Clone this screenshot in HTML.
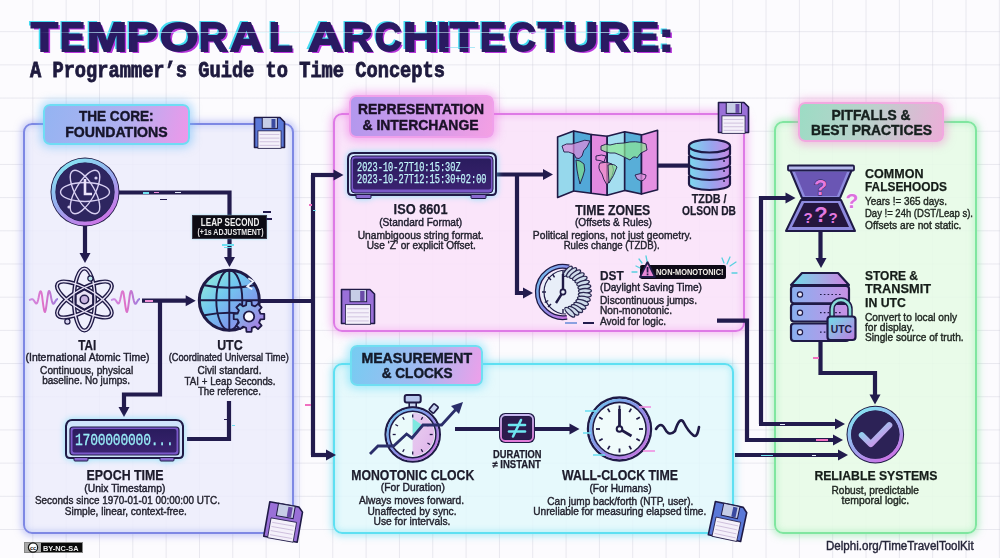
<!DOCTYPE html>
<html><head><meta charset="utf-8">
<style>
*{margin:0;padding:0;box-sizing:border-box}
html,body{width:1000px;height:558px;overflow:hidden;background:#fcfbfe}
body{position:relative;font-family:"Liberation Sans",sans-serif;color:#1b1a2e}
#grid{position:absolute;left:0;top:0;width:1000px;height:558px;
 background-image:linear-gradient(to right,rgba(200,200,214,.38) 1.2px,transparent 1.2px),linear-gradient(to bottom,rgba(200,200,214,.38) 1.2px,transparent 1.2px);
 background-size:33.33px 33.2px;background-position:-1px -2px}
.panel{position:absolute;border-radius:9px;border:3px solid}
.hdr{position:absolute;border-radius:7px;border:2.5px solid}
.t{position:absolute;white-space:nowrap}
svg{position:absolute;overflow:visible}
</style></head><body>
<div id="grid"></div>
<div class="panel" style="left:23px;top:123px;width:271px;height:411px;border-width:2.5px;border-color:#7e88e4;background:rgba(236,236,251,.85);box-shadow:0 0 7px 2px rgba(140,150,240,.5),inset 0 0 6px 1px rgba(150,170,245,.45)"></div>
<div class="panel" style="left:333px;top:113px;width:412px;height:219px;border-width:2.5px;border-color:#de7ae6;background:rgba(250,226,250,.9);box-shadow:0 0 8px 2px rgba(235,120,230,.5),inset 0 0 6px 1px rgba(240,140,235,.4)"></div>
<div class="panel" style="left:333px;top:363px;width:401px;height:171px;border-width:2.5px;border-color:#5ee0f2;background:rgba(226,248,252,.85);box-shadow:0 0 7px 2px rgba(90,220,240,.5),inset 0 0 6px 1px rgba(100,225,245,.4)"></div>
<div class="panel" style="left:774px;top:121px;width:203px;height:413px;border-width:2.5px;border-color:#80e6a0;background:rgba(230,250,230,.88);box-shadow:0 0 7px 2px rgba(120,230,150,.5),inset 0 0 6px 1px rgba(130,235,160,.4)"></div>
<div class="hdr" style="left:43px;top:104px;width:147px;height:41px;border-color:#6fdcf4;background:linear-gradient(105deg,#94b4f2,#b0b0f0 55%,#ee98ea);box-shadow:0 0 9px 3px rgba(110,190,250,.5)"></div>
<div class="hdr" style="left:349px;top:95px;width:145px;height:43px;border-color:#f0a0ea;background:linear-gradient(105deg,#b098ee,#d098ea 50%,#f4a0e4);box-shadow:0 0 9px 3px rgba(240,120,230,.5)"></div>
<div class="hdr" style="left:350px;top:345px;width:133px;height:41px;border-color:#70def2;background:linear-gradient(105deg,#76ccf2,#a4b8f0 55%,#eea0ea);box-shadow:0 0 9px 3px rgba(100,220,250,.5)"></div>
<div class="hdr" style="left:798px;top:102px;width:146px;height:40px;border-color:#f2a8e0;background:linear-gradient(105deg,#9cdcc4,#bcd0cc 50%,#ecaed8);box-shadow:0 0 9px 3px rgba(240,140,210,.5)"></div>
<svg style="left:0;top:0" width="1000" height="558" viewBox="0 0 1000 558"><g fill="none" stroke="#221b4d" stroke-width="4.2" stroke-linejoin="miter" stroke-linecap="butt"><path d="M119,192.5 H229.5 V259"/><path d="M85,226 V255"/><path d="M142,300.7 H187"/><path d="M160,300.7 V394.5 H124 V409"/><path d="M259,301 H313"/><path d="M313,175 V455"/><path d="M311,175 H335"/><path d="M311,455 H328"/><path d="M229,401 V439 H187"/><path d="M496,174.5 H545"/><path d="M517,174.5 V293 H525"/><path d="M658,165.6 H689"/><path d="M761,424 V198 H787"/><path d="M759,424 H837"/><path d="M717,320.7 H747 V440 H835"/><path d="M735,455 H840"/><path d="M820.5,232 V260"/><path d="M820.5,341 V373 H875 V396"/><path d="M455,429 H571"/></g><g fill="#221b4d"><polygon points="229.5,267 224.0,257 235.0,257"/><polygon points="85,263 79.5,253 90.5,253"/><polygon points="195.7,300.7 185.7,295.2 185.7,306.2"/><polygon points="124,417 118.5,407 129.5,407"/><polygon points="343.5,175 333.5,169.5 333.5,180.5"/><polygon points="336,455 326,449.5 326,460.5"/><polygon points="553,174.5 543,169.0 543,180.0"/><polygon points="533,293 523,287.5 523,298.5"/><polygon points="795.5,198 785.5,192.5 785.5,203.5"/><polygon points="845,424 835,418.5 835,429.5"/><polygon points="843,440 833,434.5 833,445.5"/><polygon points="848,455 838,449.5 838,460.5"/><polygon points="821,268 815.5,258 826.5,258"/><polygon points="875,404.4 869.5,394.4 880.5,394.4"/><polygon points="579.5,429 569.5,423.5 569.5,434.5"/></g></svg>
<svg style="left:0;top:0" width="0" height="0"><defs>
<linearGradient id="gRing" x1="0.2" y1="0" x2="0.8" y2="1"><stop offset="0" stop-color="#86e6f2"/><stop offset=".5" stop-color="#9aa8ee"/><stop offset="1" stop-color="#d070e6"/></linearGradient>
<linearGradient id="gCheck" x1="0" y1="0" x2="1" y2="1"><stop offset="0" stop-color="#7fe4f0"/><stop offset="1" stop-color="#e080e8"/></linearGradient>
<linearGradient id="gGlobe" x1="0" y1="0" x2="1" y2="1"><stop offset="0" stop-color="#9af4d4"/><stop offset=".4" stop-color="#72c8f0"/><stop offset=".7" stop-color="#7e9cec"/><stop offset="1" stop-color="#b88ae8"/></linearGradient>
<linearGradient id="gGear" x1="0" y1="0" x2="1" y2="1"><stop offset="0" stop-color="#70d0ee"/><stop offset="1" stop-color="#b070e0"/></linearGradient>
<linearGradient id="gWave" x1="0" y1="0" x2="1" y2="0"><stop offset="0" stop-color="#c890e8"/><stop offset=".5" stop-color="#e070c8"/><stop offset="1" stop-color="#9a80e0"/></linearGradient>
<linearGradient id="gDisc" x1="0" y1="0" x2="1" y2="0"><stop offset="0" stop-color="#7cd8ee"/><stop offset=".55" stop-color="#98a4ee"/><stop offset="1" stop-color="#c688e4"/></linearGradient>
<linearGradient id="gSrv" x1="0" y1="0" x2="1" y2="0"><stop offset="0" stop-color="#88b0f0"/><stop offset="1" stop-color="#c890e4"/></linearGradient>
<linearGradient id="gSrvTop" x1="0" y1="0" x2="1" y2="0"><stop offset="0" stop-color="#70dde8"/><stop offset="1" stop-color="#d080e0"/></linearGradient>
<linearGradient id="gLock" x1="0" y1="0" x2="1" y2="1"><stop offset="0" stop-color="#6ee0e8"/><stop offset="1" stop-color="#c07ae0"/></linearGradient>
<linearGradient id="gClockRing" x1="0" y1="0" x2="1" y2="1"><stop offset="0" stop-color="#6fc8f0"/><stop offset=".5" stop-color="#8a8ee8"/><stop offset="1" stop-color="#d070e0"/></linearGradient>
<linearGradient id="gFaceSW" x1="0" y1="0" x2="1" y2="1"><stop offset="0" stop-color="#e8fbfb"/><stop offset=".5" stop-color="#ead8f4"/><stop offset="1" stop-color="#d8a8ec"/></linearGradient>
<linearGradient id="gDisp" x1="0" y1="0" x2="0" y2="1"><stop offset="0" stop-color="#2a1c5e"/><stop offset="1" stop-color="#3a2270"/></linearGradient>
<linearGradient id="gNe" x1="0" y1="0" x2="0" y2="1"><stop offset="0" stop-color="#c8b8f0"/><stop offset="1" stop-color="#e07ad8"/></linearGradient>
</defs></svg>
<svg style="left:49px;top:156px" width="72" height="72" viewBox="0 0 72 72"><circle cx="36" cy="36" r="34.5" fill="#1f1a46"/>
<circle cx="36" cy="36" r="31.6" fill="none" stroke="url(#gRing)" stroke-width="4"/>
<circle cx="36" cy="36" r="29.2" fill="#2e2660"/>
<g fill="none" stroke="#d8d0f2" stroke-width="1.4">
<ellipse cx="36" cy="36" rx="24.5" ry="9.5"/>
<ellipse cx="36" cy="36" rx="24.5" ry="9.5" transform="rotate(60 36 36)"/>
<ellipse cx="36" cy="36" rx="24.5" ry="9.5" transform="rotate(-60 36 36)"/>
</g>
<path d="M36 23 V38 H43" stroke="#ece4fa" stroke-width="2.6" fill="none"/>
<circle cx="20" cy="51" r="1.6" fill="#d8d0f2"/><circle cx="47" cy="22" r="1.6" fill="#d8d0f2"/></svg>
<svg style="left:27px;top:264px" width="116" height="72" viewBox="0 0 116 72">
<polyline points="2.0,36.0 2.5,35.9 3.0,35.8 3.5,35.6 3.9,35.4 4.4,35.3 4.9,35.2 5.4,35.2 5.9,35.4 6.3,35.8 6.8,36.4 7.3,37.1 7.8,37.9 8.3,38.7 8.8,39.3 9.2,39.6 9.7,39.4 10.2,38.7 10.7,37.3 11.2,35.5 11.7,33.3 12.1,31.1 12.6,29.1 13.1,27.7 13.6,27.2 14.1,27.7 14.6,29.4 15.1,32.1 15.5,35.5 16.0,39.3 16.5,42.8 17.0,45.7 17.5,47.5 18.0,48.0 18.4,47.0 18.9,44.8 19.4,41.6 19.9,37.9 20.4,34.2 20.9,30.9 21.3,28.5 21.8,27.2 22.3,27.0 22.8,27.9 23.3,29.6 23.8,31.8 24.2,34.1 24.7,36.3 25.2,38.0 25.7,39.2 26.2,39.7 26.6,39.7 27.1,39.3 27.6,38.6 28.1,37.7 28.6,36.9 29.1,36.2 29.5,35.6 30.0,35.3 30.5,35.1 31.0,35.1" fill="none" stroke="url(#gWave)" stroke-width="2" stroke-linejoin="round"/>
<polyline points="84.0,36.0 84.5,35.9 85.0,35.8 85.5,35.6 85.9,35.4 86.4,35.3 86.9,35.2 87.4,35.2 87.9,35.4 88.3,35.8 88.8,36.4 89.3,37.1 89.8,37.9 90.3,38.7 90.8,39.3 91.2,39.6 91.7,39.4 92.2,38.7 92.7,37.3 93.2,35.5 93.7,33.3 94.2,31.1 94.6,29.1 95.1,27.7 95.6,27.2 96.1,27.7 96.6,29.4 97.0,32.1 97.5,35.5 98.0,39.3 98.5,42.8 99.0,45.7 99.5,47.5 100.0,48.0 100.4,47.0 100.9,44.8 101.4,41.6 101.9,37.9 102.4,34.2 102.8,30.9 103.3,28.5 103.8,27.2 104.3,27.0 104.8,27.9 105.3,29.6 105.8,31.8 106.2,34.1 106.7,36.3 107.2,38.0 107.7,39.2 108.2,39.7 108.7,39.7 109.1,39.3 109.6,38.6 110.1,37.7 110.6,36.9 111.1,36.2 111.5,35.6 112.0,35.3 112.5,35.1 113.0,35.1" fill="none" stroke="url(#gWave)" stroke-width="2" stroke-linejoin="round"/>
<g transform="translate(57.4,35.5)">
<g fill="none" stroke="#1f1a46" stroke-width="4.2">
<ellipse rx="10.5" ry="31"/><ellipse rx="10.5" ry="31" transform="rotate(60)"/><ellipse rx="10.5" ry="31" transform="rotate(-60)"/>
</g>
<g fill="none" stroke="#e6e0f4" stroke-width="1.4">
<ellipse rx="10.5" ry="31"/><ellipse rx="10.5" ry="31" transform="rotate(60)"/><ellipse rx="10.5" ry="31" transform="rotate(-60)"/>
</g>
<polygon points="0,-10 8.7,-5 8.7,5 0,10 -8.7,5 -8.7,-5" fill="#e8e2f4" stroke="#1f1a46" stroke-width="2"/>
<circle r="4.2" fill="#c8b4e0" stroke="#1f1a46" stroke-width="1.5"/>
<circle cx="6" cy="-21" r="2.6" fill="#bfe8ee" stroke="#1f1a46" stroke-width="1.2"/>
<circle cx="-17" cy="22" r="2.6" fill="#d8d4f0" stroke="#1f1a46" stroke-width="1.2"/>
</g></svg>
<svg style="left:196px;top:267px" width="72" height="70" viewBox="0 0 72 70"><g transform="translate(33.3,33.3)">
<circle r="30" fill="url(#gGlobe)" stroke="#1f1a46" stroke-width="3"/>
<g fill="none" stroke="#1f1a46" stroke-width="1.9">
<line x1="-30" y1="0" x2="30" y2="0"/><line x1="0" y1="-30" x2="0" y2="30"/>
<ellipse rx="13" ry="30"/>
<path d="M-25,-15 Q0,-10 25,-15"/><path d="M-25,15 Q0,10 25,15"/>
</g>
<path d="M19,-22 L24,-19 L18,-14 L23,-11" fill="none" stroke="#f0f4ff" stroke-width="1.8"/>
</g>
<g transform="translate(53,49.5)" fill="url(#gGear)" stroke="#1f1a46" stroke-width="1.8" stroke-linejoin="round">
<path d="M11.45,-2.86 L15.29,-2.54 L15.29,2.54 L11.45,2.86 L10.12,6.07 L12.61,9.01 L9.01,12.61 L6.07,10.12 L2.86,11.45 L2.54,15.29 L-2.54,15.29 L-2.86,11.45 L-6.07,10.12 L-9.01,12.61 L-12.61,9.01 L-10.12,6.07 L-11.45,2.86 L-15.29,2.54 L-15.29,-2.54 L-11.45,-2.86 L-10.12,-6.07 L-12.61,-9.01 L-9.01,-12.61 L-6.07,-10.12 L-2.86,-11.45 L-2.54,-15.29 L2.54,-15.29 L2.86,-11.45 L6.07,-10.12 L9.01,-12.61 L12.61,-9.01 L10.12,-6.07 Z"/>
</g>
<g transform="translate(53,49.5)"><circle r="5.2" fill="#fafaff" stroke="#1f1a46" stroke-width="1.8"/></g></svg>
<svg style="left:64px;top:418px" width="124" height="45" viewBox="0 0 124 45" filter="drop-shadow(0 0 3px rgba(90,220,250,.7))">
<path d="M8,2 H112 Q118,2 119,8 V36 Q119,40 115,40 H6 Q2,40 2,36 V8 Q3,2 8,2 Z" fill="#cfe4fb" stroke="#1f1a46" stroke-width="2"/>
<rect x="6" y="9" width="109" height="28" rx="3" fill="#7a58c8" stroke="#1f1a46" stroke-width="1.2"/>
<rect x="8.5" y="11" width="104" height="23.5" rx="2" fill="url(#gDisp)"/>
<rect x="10" y="39.5" width="14" height="3.5" rx="1" fill="#8a6ad0" stroke="#1f1a46" stroke-width="1"/>
<rect x="96" y="39.5" width="14" height="3.5" rx="1" fill="#8a6ad0" stroke="#1f1a46" stroke-width="1"/>
</svg>
<div class="t" style="left:75px;top:430.5px;font-family:'Liberation Mono',monospace;font-size:17px;line-height:19px;color:#98ecf8;-webkit-text-stroke:.3px #98ecf8;transform:scaleX(0.765);transform-origin:0 0;letter-spacing:-0.3px">1700000000...</div>
<div style="position:absolute;left:192px;top:214.5px;width:75px;height:24.5px;background:#0c0c14;border:1px solid #3a3a48;box-shadow:0 0 2px rgba(60,220,240,.5)"></div>
<svg style="left:252.5px;top:115.5px" width="33" height="33" viewBox="0 0 33 33"><g transform="rotate(0 16.5 16.5)">
<path d="M1.5,1.5 H27 L31.5,6 V31.5 H1.5 Z" fill="#5a78d8" stroke="#1f1a46" stroke-width="1.6" stroke-linejoin="round"/>
<rect x="9.24" y="1.5" width="15.180000000000001" height="10.89" fill="#c6cde6" stroke="#1f1a46" stroke-width="1"/>
<rect x="18.48" y="3" width="3.96" height="8.91" fill="#3a4aa0"/>
<rect x="4.95" y="14.85" width="23.099999999999998" height="17.490000000000002" fill="#f4f0fa" stroke="#1f1a46" stroke-width=".8"/>
<g stroke="#c8b8d8" stroke-width=".8"><line x1="6.6000000000000005" y1="18.48" x2="26.400000000000002" y2="18.48"/><line x1="6.6000000000000005" y1="22.110000000000003" x2="26.400000000000002" y2="22.110000000000003"/><line x1="6.6000000000000005" y1="25.740000000000002" x2="26.400000000000002" y2="25.740000000000002"/><line x1="6.6000000000000005" y1="29.37" x2="26.400000000000002" y2="29.37"/></g>
</g></svg>
<svg style="left:340px;top:288px" width="36" height="37" viewBox="0 0 36 37"><g transform="rotate(0 18.0 18.5)">
<path d="M1.5,1.5 H30 L34.5,6 V35.5 H1.5 Z" fill="#9a70d8" stroke="#1f1a46" stroke-width="1.6" stroke-linejoin="round"/>
<rect x="10.080000000000002" y="1.5" width="16.560000000000002" height="12.21" fill="#c6cde6" stroke="#1f1a46" stroke-width="1"/>
<rect x="20.160000000000004" y="3" width="4.32" height="9.99" fill="#6a4aa8"/>
<rect x="5.3999999999999995" y="16.650000000000002" width="25.2" height="19.61" fill="#f4f0fa" stroke="#1f1a46" stroke-width=".8"/>
<g stroke="#c8b8d8" stroke-width=".8"><line x1="7.2" y1="20.720000000000002" x2="28.8" y2="20.720000000000002"/><line x1="7.2" y1="24.790000000000003" x2="28.8" y2="24.790000000000003"/><line x1="7.2" y1="28.86" x2="28.8" y2="28.86"/><line x1="7.2" y1="32.93" x2="28.8" y2="32.93"/></g>
</g></svg>
<svg style="left:717px;top:101px" width="33" height="33" viewBox="0 0 33 33"><g transform="rotate(0 16.5 16.5)">
<path d="M1.5,1.5 H27 L31.5,6 V31.5 H1.5 Z" fill="#9a70d8" stroke="#1f1a46" stroke-width="1.6" stroke-linejoin="round"/>
<rect x="9.24" y="1.5" width="15.180000000000001" height="10.89" fill="#c6cde6" stroke="#1f1a46" stroke-width="1"/>
<rect x="18.48" y="3" width="3.96" height="8.91" fill="#6a4aa8"/>
<rect x="4.95" y="14.85" width="23.099999999999998" height="17.490000000000002" fill="#f4f0fa" stroke="#1f1a46" stroke-width=".8"/>
<g stroke="#c8b8d8" stroke-width=".8"><line x1="6.6000000000000005" y1="18.48" x2="26.400000000000002" y2="18.48"/><line x1="6.6000000000000005" y1="22.110000000000003" x2="26.400000000000002" y2="22.110000000000003"/><line x1="6.6000000000000005" y1="25.740000000000002" x2="26.400000000000002" y2="25.740000000000002"/><line x1="6.6000000000000005" y1="29.37" x2="26.400000000000002" y2="29.37"/></g>
</g></svg>
<svg style="left:264.5px;top:503px" width="37" height="38" viewBox="0 0 37 38"><g transform="rotate(10 18.5 19.0)">
<path d="M1.5,1.5 H31 L35.5,6 V36.5 H1.5 Z" fill="#9a70d8" stroke="#1f1a46" stroke-width="1.6" stroke-linejoin="round"/>
<rect x="10.360000000000001" y="1.5" width="17.02" height="12.540000000000001" fill="#c6cde6" stroke="#1f1a46" stroke-width="1"/>
<rect x="20.720000000000002" y="3" width="4.4399999999999995" height="10.260000000000002" fill="#6a4aa8"/>
<rect x="5.55" y="17.1" width="25.9" height="20.14" fill="#f4f0fa" stroke="#1f1a46" stroke-width=".8"/>
<g stroke="#c8b8d8" stroke-width=".8"><line x1="7.4" y1="21.28" x2="29.6" y2="21.28"/><line x1="7.4" y1="25.46" x2="29.6" y2="25.46"/><line x1="7.4" y1="29.64" x2="29.6" y2="29.64"/><line x1="7.4" y1="33.82" x2="29.6" y2="33.82"/></g>
</g></svg>
<svg style="left:710px;top:503px" width="36" height="37" viewBox="0 0 36 37"><g transform="rotate(12 18.0 18.5)">
<path d="M1.5,1.5 H30 L34.5,6 V35.5 H1.5 Z" fill="#5a78d8" stroke="#1f1a46" stroke-width="1.6" stroke-linejoin="round"/>
<rect x="10.080000000000002" y="1.5" width="16.560000000000002" height="12.21" fill="#c6cde6" stroke="#1f1a46" stroke-width="1"/>
<rect x="20.160000000000004" y="3" width="4.32" height="9.99" fill="#3a4aa0"/>
<rect x="5.3999999999999995" y="16.650000000000002" width="25.2" height="19.61" fill="#f4f0fa" stroke="#1f1a46" stroke-width=".8"/>
<g stroke="#c8b8d8" stroke-width=".8"><line x1="7.2" y1="20.720000000000002" x2="28.8" y2="20.720000000000002"/><line x1="7.2" y1="24.790000000000003" x2="28.8" y2="24.790000000000003"/><line x1="7.2" y1="28.86" x2="28.8" y2="28.86"/><line x1="7.2" y1="32.93" x2="28.8" y2="32.93"/></g>
</g></svg>
<svg style="left:346px;top:151px" width="152" height="50" viewBox="0 0 152 50" filter="drop-shadow(0 0 3px rgba(90,220,250,.7))">
<path d="M8,2 H144 Q150,2 150,8 V40 Q150,44 146,44 H6 Q2,44 2,40 V8 Q2,2 8,2 Z" fill="#cfe4fb" stroke="#1f1a46" stroke-width="2"/>
<rect x="5" y="5" width="142" height="37" rx="4" fill="#7a58c8" stroke="#1f1a46" stroke-width="1"/>
<rect x="7" y="7.5" width="138" height="31" rx="2" fill="url(#gDisp)"/>
<rect x="10" y="43.5" width="15" height="4" rx="1" fill="#8a6ad0" stroke="#1f1a46" stroke-width="1"/>
<rect x="125" y="43.5" width="15" height="4" rx="1" fill="#8a6ad0" stroke="#1f1a46" stroke-width="1"/>
</svg>
<div class="t" style="left:356.5px;top:163.1px;font-family:'Liberation Mono',monospace;font-size:12.5px;line-height:11.6px;color:#c0f4fa;-webkit-text-stroke:.25px #c0f4fa;transform:scaleX(0.6907);transform-origin:0 0">2023-10-27T10:15:30Z<br>2023-10-27T12:15:30+02:00</div>
<svg style="left:552px;top:124px" width="112" height="78" viewBox="0 0 112 78"><polygon points="5.600000000000023,12.900000000000006 21.700000000000045,7 21.700000000000045,67 5.600000000000023,73.4" fill="#96d8ec" stroke="#1f1a46" stroke-width="1.6" stroke-linejoin="round"/><polygon points="21.700000000000045,7 39.200000000000045,10.5 39.200000000000045,69.19999999999999 21.700000000000045,67" fill="#52a8d8" stroke="#1f1a46" stroke-width="1.6" stroke-linejoin="round"/><polygon points="39.200000000000045,10.5 55.200000000000045,12.300000000000011 55.200000000000045,71.30000000000001 39.200000000000045,69.19999999999999" fill="#e28ae0" stroke="#1f1a46" stroke-width="1.6" stroke-linejoin="round"/><polygon points="55.200000000000045,12.300000000000011 72.70000000000005,7.699999999999989 72.70000000000005,66.4 55.200000000000045,71.30000000000001" fill="#a4def0" stroke="#1f1a46" stroke-width="1.6" stroke-linejoin="round"/><polygon points="72.70000000000005,7.699999999999989 89.5,10.900000000000006 89.5,70 72.70000000000005,66.4" fill="#58aed8" stroke="#1f1a46" stroke-width="1.6" stroke-linejoin="round"/><polygon points="89.5,10.900000000000006 105.60000000000002,6.300000000000011 105.60000000000002,65.69999999999999 89.5,70" fill="#e490e2" stroke="#1f1a46" stroke-width="1.6" stroke-linejoin="round"/><g stroke="#1f1a46" stroke-width="0.9" stroke-linejoin="round" fill-opacity=".7">
<path d="M10,22 Q14,19 20,20 L27,18 Q33,15 38,17 L35,23 Q31,26 30,32 Q27,36 24,34 L22,30 Q16,27 12,28 Z" fill="#e48adc"/>
<path d="M24,36 Q28,36 32,40 Q34,46 31,52 L28,60 Q26,52 25,46 Z" fill="#7ee08a"/>
<path d="M49,22 Q54,19 58,21 Q64,19 72,19 Q84,16 94,20 L95,26 Q88,28 85,34 Q82,31 78,36 Q72,33 68,31 Q63,28 58,29 Q53,28 49,26 Z" fill="#8ee894"/>
<path d="M44,32 Q50,30 54,32 L52,38 Q48,36 44,36 Z" fill="#e890e0"/>
<path d="M48,39 Q55,37 60,40 Q63,46 60,52 Q57,58 55,61 Q51,55 50,50 Q45,44 48,39 Z" fill="#ee90c8"/>
<path d="M56,41 Q62,39 65,43 Q62,52 57,59 Z" fill="#86e08e"/>
<path d="M83,51 Q89,48 94,51 Q94,56 89,57 Q84,56 83,51 Z" fill="#e890e0"/>
</g></svg>
<svg style="left:687px;top:133.5px" width="46" height="58" viewBox="0 0 46 58"><g stroke="#1f1a46" stroke-width="2.2"><path d="M2,42 V50 A20.5,6 0 0 0 43,50 V42" fill="url(#gDisc)"/><path d="M2,32 V40 A20.5,6 0 0 0 43,40 V32" fill="url(#gDisc)"/><path d="M2,22 V30 A20.5,6 0 0 0 43,30 V22" fill="url(#gDisc)"/><path d="M2,12 V20 A20.5,6 0 0 0 43,20 V12" fill="url(#gDisc)"/><ellipse cx="22.5" cy="12" rx="20.5" ry="6.5" fill="url(#gDisc)"/></g><circle cx="37" cy="17" r="1" fill="#1f1a46"/><circle cx="37" cy="27" r="1" fill="#1f1a46"/><circle cx="37" cy="37" r="1" fill="#1f1a46"/><circle cx="37" cy="47" r="1" fill="#1f1a46"/></svg>
<svg style="left:533px;top:262px" width="64" height="62" viewBox="0 0 64 62"><g transform="translate(30,30)">
<circle r="22" fill="#e8eef8"/>
<path d="M6,-25 A25.7,25.7 0 1 0 4,25.4" fill="none" stroke="#1f1a46" stroke-width="5"/>
<path d="M6,-25 A25.7,25.7 0 1 0 4,25.4" fill="none" stroke="url(#gClockRing)" stroke-width="2.4"/>
<path d="M3,-22 A22,22 0 1 0 3,22" fill="none" stroke="#1f1a46" stroke-width="1.2"/>
<g stroke="#1f1a46" stroke-width="1.4"><line x1="0" y1="-21" x2="0" y2="-17"/><line x1="-21" y1="0" x2="-17" y2="0"/><line x1="0" y1="21" x2="0" y2="17"/><line x1="-15" y1="-15" x2="-12" y2="-12"/><line x1="-15" y1="15" x2="-12" y2="12"/><line x1="-10.5" y1="-18.2" x2="-8.5" y2="-14.7"/><line x1="-18.2" y1="10.5" x2="-14.7" y2="8.5"/></g>
<g fill="#cfdceb" stroke="#2a2850" stroke-width="1.3"><ellipse cx="0" cy="0" rx="6.5" ry="2.4" transform="translate(4.65,-20.68) rotate(-48.0)"/><ellipse cx="0" cy="0" rx="6.5" ry="2.4" transform="translate(8.53,-19.61) rotate(-41.4)"/><ellipse cx="0" cy="0" rx="6.5" ry="2.4" transform="translate(12.13,-17.81) rotate(-34.8)"/><ellipse cx="0" cy="0" rx="6.5" ry="2.4" transform="translate(15.32,-15.36) rotate(-28.2)"/><ellipse cx="0" cy="0" rx="6.5" ry="2.4" transform="translate(17.99,-12.34) rotate(-21.6)"/><ellipse cx="0" cy="0" rx="6.5" ry="2.4" transform="translate(20.03,-8.87) rotate(-15.0)"/><ellipse cx="0" cy="0" rx="6.5" ry="2.4" transform="translate(21.38,-5.08) rotate(-8.4)"/><ellipse cx="0" cy="0" rx="6.5" ry="2.4" transform="translate(21.97,-1.10) rotate(-1.8)"/><ellipse cx="0" cy="0" rx="6.5" ry="2.4" transform="translate(21.80,2.92) rotate(4.8)"/><ellipse cx="0" cy="0" rx="6.5" ry="2.4" transform="translate(20.86,6.84) rotate(11.4)"/><ellipse cx="0" cy="0" rx="6.5" ry="2.4" transform="translate(19.19,10.50) rotate(18.0)"/><ellipse cx="0" cy="0" rx="6.5" ry="2.4" transform="translate(16.85,13.78) rotate(24.6)"/><ellipse cx="0" cy="0" rx="6.5" ry="2.4" transform="translate(13.93,16.55) rotate(31.2)"/><ellipse cx="0" cy="0" rx="6.5" ry="2.4" transform="translate(10.53,18.71) rotate(37.8)"/><ellipse cx="0" cy="0" rx="6.5" ry="2.4" transform="translate(6.79,20.19) rotate(44.4)"/></g>
<path d="M0,-18 V0 L-7,11" fill="none" stroke="#1f1a46" stroke-width="2.4"/>
<circle r="2.6" fill="#eaf0fa" stroke="#1f1a46" stroke-width="1.6"/>
</g></svg>
<div style="position:absolute;left:640px;top:264.5px;width:86px;height:14px;background:#0e0a16;border-radius:2px"></div>
<svg style="left:639px;top:258px" width="20" height="22" viewBox="0 0 20 22"><polygon points="8.5,4 16,19 1,19" fill="#e888d8" stroke="#1f1a46" stroke-width="1.8" stroke-linejoin="round"/><rect x="7.7" y="9" width="1.7" height="5.5" fill="#1f1a46"/><rect x="7.7" y="15.5" width="1.7" height="1.8" fill="#1f1a46"/></svg>
<svg style="left:630px;top:252px" width="110" height="30" viewBox="0 0 110 30"><g stroke="#58d0e0" stroke-width="1.3" stroke-linecap="round"><line x1="6" y1="14" x2="10" y2="16"/><line x1="9" y1="7" x2="12" y2="11"/><line x1="16" y1="4" x2="17" y2="9"/><line x1="2" y1="20" x2="7" y2="20"/><line x1="92" y1="6" x2="94" y2="11"/><line x1="100" y1="5" x2="97" y2="12"/><line x1="106" y1="10" x2="100" y2="14"/><line x1="102" y1="21" x2="107" y2="21"/></g></svg>
<svg style="left:368px;top:390px" width="100" height="80" viewBox="0 0 100 80"><g transform="translate(44.7,44.5)">
<rect x="-3.5" y="-33" width="7" height="6" fill="#c8d4f0" stroke="#1f1a46" stroke-width="1.6"/>
<rect x="-8" y="-39.5" width="16" height="7.5" rx="2" fill="#b8c8ee" stroke="#1f1a46" stroke-width="2"/>
<rect x="18" y="-30" width="6" height="8" rx="1" transform="rotate(40 21 -26)" fill="#c8d4f0" stroke="#1f1a46" stroke-width="1.6"/>
<circle r="27.2" fill="none" stroke="#1f1a46" stroke-width="2.2"/>
<circle r="24.9" fill="none" stroke="url(#gClockRing)" stroke-width="2.6"/>
<circle r="23.2" fill="#eafafa" stroke="#1f1a46" stroke-width="1.5"/>
<path d="M0,-21.7 A21.7,21.7 0 0 1 0,21.7 Z" fill="#e2b6ea"/>
<path d="M0,-21.7 A21.7,21.7 0 0 1 0,21.7 Z" fill="url(#gFaceSW)" opacity=".35"/>
<path d="M0,0 L0,-16 L10,-9 Z" fill="#7ee8e0"/>
<g stroke="#1f1a46" stroke-width="1.3"><line x1="0" y1="-20" x2="0" y2="-17" transform="rotate(0)"/><line x1="0" y1="-20" x2="0" y2="-17" transform="rotate(30)"/><line x1="0" y1="-20" x2="0" y2="-17" transform="rotate(60)"/><line x1="0" y1="-20" x2="0" y2="-17" transform="rotate(90)"/><line x1="0" y1="-20" x2="0" y2="-17" transform="rotate(120)"/><line x1="0" y1="-20" x2="0" y2="-17" transform="rotate(150)"/><line x1="0" y1="-20" x2="0" y2="-17" transform="rotate(180)"/><line x1="0" y1="-20" x2="0" y2="-17" transform="rotate(210)"/><line x1="0" y1="-20" x2="0" y2="-17" transform="rotate(240)"/><line x1="0" y1="-20" x2="0" y2="-17" transform="rotate(270)"/><line x1="0" y1="-20" x2="0" y2="-17" transform="rotate(300)"/><line x1="0" y1="-20" x2="0" y2="-17" transform="rotate(330)"/></g>
</g>
<polyline points="2,64 10,56 25.6,56 38.6,44 44,48 55,35 73.6,35 90,17" fill="none" stroke="#2a2e6a" stroke-width="2.8" stroke-linejoin="miter"/>
<polygon points="95,12 83,16 91,24" fill="#2a2e6a"/></svg>
<svg style="left:497px;top:411px" width="40" height="34" viewBox="0 0 40 34"><rect x="2" y="2" width="36" height="30" rx="6" fill="#1f1a46"/>
<rect x="4" y="4" width="32" height="26" rx="4.5" fill="none" stroke="url(#gNe)" stroke-width="1.8"/>
<rect x="5.5" y="5.5" width="29" height="23" rx="3.5" fill="#2c1b4e"/>
<g stroke="#6ee6f0" stroke-width="2.6" stroke-linecap="round"><line x1="12" y1="14" x2="28" y2="14"/><line x1="12" y1="20.5" x2="28" y2="20.5"/><line x1="24" y1="9" x2="16" y2="25.5"/></g></svg>
<svg style="left:583px;top:393px" width="124" height="72" viewBox="0 0 124 72"><g transform="translate(36.5,36)">
<circle r="31.5" fill="none" stroke="#1f1a46" stroke-width="2.4"/>
<circle r="28.8" fill="none" stroke="url(#gClockRing)" stroke-width="3"/>
<circle r="26.6" fill="#f0fbfb" stroke="#1f1a46" stroke-width="1.6"/>
<g stroke="#1f1a46" stroke-width="1.8"><line x1="0" y1="-23.5" x2="0" y2="-19.5" transform="rotate(0)"/><line x1="0" y1="-23.5" x2="0" y2="-19.5" transform="rotate(30)"/><line x1="0" y1="-23.5" x2="0" y2="-19.5" transform="rotate(60)"/><line x1="0" y1="-23.5" x2="0" y2="-19.5" transform="rotate(90)"/><line x1="0" y1="-23.5" x2="0" y2="-19.5" transform="rotate(120)"/><line x1="0" y1="-23.5" x2="0" y2="-19.5" transform="rotate(150)"/><line x1="0" y1="-23.5" x2="0" y2="-19.5" transform="rotate(180)"/><line x1="0" y1="-23.5" x2="0" y2="-19.5" transform="rotate(210)"/><line x1="0" y1="-23.5" x2="0" y2="-19.5" transform="rotate(240)"/><line x1="0" y1="-23.5" x2="0" y2="-19.5" transform="rotate(270)"/><line x1="0" y1="-23.5" x2="0" y2="-19.5" transform="rotate(300)"/><line x1="0" y1="-23.5" x2="0" y2="-19.5" transform="rotate(330)"/></g>
<path d="M0,-20 V0 L12,7" fill="none" stroke="#1f1a46" stroke-width="2.8"/>
<circle r="2.8" fill="#eefafa" stroke="#1f1a46" stroke-width="2"/>
</g>
<g stroke-width="1.6"><line x1="2" y1="18" x2="14" y2="18" stroke="#6ee0f0"/><line x1="0" y1="40" x2="8" y2="40" stroke="#6ee0f0"/><line x1="56" y1="14" x2="68" y2="14" stroke="#f090e0"/><line x1="60" y1="58" x2="72" y2="58" stroke="#f090e0"/><line x1="10" y1="62" x2="22" y2="62" stroke="#6ee0f0"/></g>
<path d="M73,36 Q78,28 82,36 T92,38 Q97,22 101,30 T110,42 Q114,46 116,34" fill="none" stroke="#1f1a46" stroke-width="2.6" stroke-linecap="round"/></svg>
<svg style="left:783px;top:162px" width="82" height="74" viewBox="0 0 82 74">
<path d="M6,5 H70 L57,36 H19 Z" fill="#8e8ade" stroke="#1f1a46" stroke-width="2" stroke-linejoin="round"/>
<path d="M12,10 H64 L54,34 H22 Z" fill="#6a56b4"/>
<rect x="5" y="3.5" width="66" height="5" rx="1" fill="#b4b8ec" stroke="#1f1a46" stroke-width="1.8"/>
<path d="M18,38 H58 L72,69 H3 Z" fill="#8e8ade" stroke="#1f1a46" stroke-width="2" stroke-linejoin="round"/>
<path d="M21,41 H55 L66,65 H9 Z" fill="#24163e"/>
<g fill="#e47ae0" font-family="Liberation Sans" font-weight="bold" text-anchor="middle" stroke="#1f1a46" stroke-width=".8" paint-order="stroke">
<text x="37.5" y="33" font-size="22">?</text>
<text x="38" y="59.6" font-size="22">?</text>
<text x="25" y="61" font-size="15">?</text>
<text x="50" y="61" font-size="15">?</text>
<text x="69" y="46" font-size="21" fill="#dc70dc" stroke="#f8f4ff" stroke-width="1.6">?</text>
</g></svg>
<svg style="left:790px;top:271px" width="70" height="74" viewBox="0 0 70 74"><path d="M12,2 H48 L59,14 H1 Z" fill="url(#gSrvTop)" stroke="#1f1a46" stroke-width="2.2" stroke-linejoin="round"/><rect x="1" y="14.8" width="58" height="17.5" rx="3" fill="url(#gSrv)" stroke="#1f1a46" stroke-width="2.2"/><circle cx="10" cy="23.5" r="2.6" fill="#e8e4f4" stroke="#1f1a46" stroke-width="1.2"/><line x1="30" y1="23.5" x2="52" y2="23.5" stroke="#1f1a46" stroke-width="1.2" stroke-dasharray="1.6 2.2"/><rect x="1" y="33" width="58" height="17.5" rx="3" fill="url(#gSrv)" stroke="#1f1a46" stroke-width="2.2"/><circle cx="10" cy="41.7" r="2.6" fill="#e8e4f4" stroke="#1f1a46" stroke-width="1.2"/><line x1="30" y1="41.7" x2="52" y2="41.7" stroke="#1f1a46" stroke-width="1.2" stroke-dasharray="1.6 2.2"/><rect x="1" y="52.5" width="58" height="17.5" rx="3" fill="url(#gSrv)" stroke="#1f1a46" stroke-width="2.2"/><circle cx="10" cy="61.2" r="2.6" fill="#e8e4f4" stroke="#1f1a46" stroke-width="1.2"/><line x1="30" y1="61.2" x2="52" y2="61.2" stroke="#1f1a46" stroke-width="1.2" stroke-dasharray="1.6 2.2"/><path d="M42,46 V38 A9,9 0 0 1 60,38 V46" fill="none" stroke="#1f1a46" stroke-width="5.5"/>
<path d="M42,46 V38 A9,9 0 0 1 60,38 V46" fill="none" stroke="#88dcd8" stroke-width="2.6"/>
<rect x="37.5" y="45.5" width="28" height="23.5" rx="3" fill="url(#gLock)" stroke="#1f1a46" stroke-width="2.2"/>
<text x="51.5" y="62" text-anchor="middle" font-family="Liberation Sans" font-weight="bold" font-size="11.5" fill="#1f1a46" transform="scale(0.9 1) translate(5.6 0)">UTC</text></svg>
<svg style="left:845px;top:404px" width="61" height="61" viewBox="0 0 61 61"><g transform="translate(30.3,30.6)">
<circle r="28.8" fill="#1f1a46"/>
<circle r="26" fill="none" stroke="url(#gRing)" stroke-width="3.6"/>
<circle r="24" fill="#2c2256"/>
<path d="M-13.5,0.5 L-4.5,9.5 L14,-9.5" fill="none" stroke="url(#gCheck)" stroke-width="6" stroke-linecap="round" stroke-linejoin="round"/>
</g></svg>
<div style="position:absolute;left:24px;top:542px;width:59px;height:11px;background:#0a0a0a;border:1px solid #888"></div><div style="position:absolute;left:25px;top:543px;width:15.5px;height:9px;background:#a8a8a8"></div>
<svg style="left:27px;top:542px" width="12" height="12" viewBox="0 0 12 12"><circle cx="6" cy="5.5" r="4.6" fill="#fff" stroke="#111" stroke-width="1.2"/><text x="6" y="7.6" text-anchor="middle" font-family="Liberation Sans" font-weight="bold" font-size="5.4" fill="#111">cc</text></svg>
<div class="t" style="left:42.5px;top:543.5px;font-size:8px;line-height:9px;font-weight:bold;color:#f0f0f0;transform:scaleX(0.92);transform-origin:0 0">BY-NC-SA</div>
<div style="position:absolute;left:143px;top:192px;width:6px;height:1.5px;background:#6ee0f0"></div>
<div style="position:absolute;left:154px;top:191.5px;width:5px;height:1.5px;background:#f090e0"></div>
<div style="position:absolute;left:175px;top:192px;width:6px;height:1.2px;background:#e8f0ff"></div>
<div style="position:absolute;left:160px;top:198.5px;width:7px;height:1.8px;background:#221b4d"></div>
<div style="position:absolute;left:263px;top:211px;width:8px;height:1.6px;background:#221b4d"></div>
<div style="position:absolute;left:266px;top:218px;width:6px;height:1.6px;background:#221b4d"></div>
<div style="position:absolute;left:222px;top:244px;width:12px;height:1.5px;background:#6ee0f0"></div>
<div style="position:absolute;left:224px;top:247px;width:8px;height:1.2px;background:#6ee0f0"></div>
<div style="position:absolute;left:145px;top:300px;width:8px;height:1.8px;background:#f090d8"></div>
<div style="position:absolute;left:309px;top:204px;width:3px;height:1.5px;background:#f070c0"></div>
<div style="position:absolute;left:313px;top:209.5px;width:3px;height:1.5px;background:#6ee0f0"></div>
<div style="position:absolute;left:224px;top:418.5px;width:5px;height:1.5px;background:#221b4d"></div>
<div style="position:absolute;left:232px;top:425px;width:3px;height:1.2px;background:#6ee0f0"></div>
<div style="position:absolute;left:780px;top:423.5px;width:5px;height:1.3px;background:#e8f0ff"></div>
<div style="position:absolute;left:816px;top:438.5px;width:12px;height:2px;background:#f070c0"></div>
<div style="position:absolute;left:761px;top:454.5px;width:12px;height:1.5px;background:#6ee0f0"></div>
<div style="position:absolute;left:812px;top:454.5px;width:4px;height:1.3px;background:#e8f0ff"></div>
<div style="position:absolute;left:813px;top:357px;width:6px;height:1.8px;background:#f070c0"></div>
<div style="position:absolute;left:565px;top:322px;width:12px;height:1.8px;background:#8aa0e0"></div>
<div style="position:absolute;left:583px;top:322px;width:11px;height:2px;background:#221b4d"></div>
<div style="position:absolute;left:305px;top:404px;width:6px;height:1.5px;background:#f070c0"></div>
<style>.tl{position:absolute;top:14.36px;font-size:44px;line-height:49.15px;font-weight:bold;color:#2a1a62;-webkit-text-stroke:2.0px #2a1a62;transform-origin:0 0;text-shadow:-2.4px -2.2px 0 #44dcf2,2.4px 2.4px 0 #b836dc;white-space:nowrap}</style><div class="tl" style="left:31.00px;transform:scale(1.0000,0.9303)">T</div><div class="tl" style="left:60.30px;transform:scale(0.8519,0.9303)">E</div><div class="tl" style="left:86.82px;transform:scale(1.0909,0.9303)">M</div><div class="tl" style="left:126.93px;transform:scale(1.0370,0.9303)">P</div><div class="tl" style="left:159.88px;transform:scale(1.1250,0.9303)">O</div><div class="tl" style="left:199.20px;transform:scale(0.9000,0.9303)">R</div><div class="tl" style="left:230.00px;transform:scale(1.0312,0.9303)">A</div><div class="tl" style="left:269.24px;transform:scale(0.8800,0.9303)">L</div><div class="tl" style="left:308.00px;transform:scale(1.0938,0.9303)">A</div><div class="tl" style="left:343.13px;transform:scale(0.9333,0.9303)">R</div><div class="tl" style="left:375.16px;transform:scale(0.8387,0.9303)">C</div><div class="tl" style="left:402.79px;transform:scale(1.1071,0.9303)">H</div><div class="tl" style="left:436.75px;transform:scale(1.1250,0.9303)">I</div><div class="tl" style="left:450.00px;transform:scale(1.0370,0.9303)">T</div><div class="tl" style="left:480.22px;transform:scale(0.8889,0.9303)">E</div><div class="tl" style="left:509.16px;transform:scale(0.8387,0.9303)">C</div><div class="tl" style="left:538.00px;transform:scale(0.8889,0.9303)">T</div><div class="tl" style="left:563.86px;transform:scale(1.0714,0.9303)">U</div><div class="tl" style="left:599.07px;transform:scale(0.9667,0.9303)">R</div><div class="tl" style="left:632.15px;transform:scale(0.9259,0.9303)">E</div><div class="tl" style="left:659.00px;transform:scale(1.0000,0.9303)">:</div>
<div style="position:absolute;left:38px;top:32px;width:630px;height:1px;background:linear-gradient(90deg,rgba(160,240,250,.0),rgba(190,245,255,.7) 10%,rgba(230,250,255,.45) 50%,rgba(190,245,255,.7) 90%,rgba(160,240,250,0))"></div>
<div style="position:absolute;left:445px;top:46.5px;width:30px;height:1px;background:rgba(120,220,240,.6)"></div>
<div class="t" style="left:75.05px;top:108.33px;font-size:15px;line-height:16.75px;font-weight:bold;color:#16152a;transform:scaleX(0.9042);transform-origin:50% 0;-webkit-text-stroke:0.45px #16152a">THE CORE:</div>
<div class="t" style="left:62.35px;top:124.33px;font-size:15px;line-height:16.75px;font-weight:bold;color:#16152a;transform:scaleX(0.9404);transform-origin:50% 0;-webkit-text-stroke:0.45px #16152a">FOUNDATIONS</div>
<div class="t" style="left:352.94px;top:101.22px;font-size:15px;line-height:16.75px;font-weight:bold;color:#1a1026;transform:scaleX(0.9256);transform-origin:50% 0;-webkit-text-stroke:0.45px #1a1026">REPRESENTATION</div>
<div class="t" style="left:358.49px;top:116.62px;font-size:15px;line-height:16.75px;font-weight:bold;color:#1a1026;transform:scaleX(0.9279);transform-origin:50% 0;-webkit-text-stroke:0.45px #1a1026">&amp; INTERCHANGE</div>
<div class="t" style="left:358.24px;top:349.53px;font-size:15px;line-height:16.75px;font-weight:bold;color:#141a2a;transform:scaleX(0.9420);transform-origin:50% 0;-webkit-text-stroke:0.45px #141a2a">MEASUREMENT</div>
<div class="t" style="left:377.83px;top:364.73px;font-size:15px;line-height:16.75px;font-weight:bold;color:#141a2a;transform:scaleX(0.9063);transform-origin:50% 0;-webkit-text-stroke:0.45px #141a2a">&amp; CLOCKS</div>
<div class="t" style="left:828.08px;top:106.52px;font-size:15px;line-height:16.75px;font-weight:bold;color:#16201e;transform:scaleX(0.9203);transform-origin:50% 0;-webkit-text-stroke:0.45px #16201e">PITFALLS &amp;</div>
<div class="t" style="left:805.57px;top:121.92px;font-size:15px;line-height:16.75px;font-weight:bold;color:#16201e;transform:scaleX(0.9247);transform-origin:50% 0;-webkit-text-stroke:0.45px #16201e">BEST PRACTICES</div>
<div class="t" style="left:75.56px;top:336.88px;font-size:14.5px;line-height:16.20px;font-weight:bold;color:#1c1b2b;transform:scaleX(0.8079);transform-origin:50% 0;-webkit-text-stroke:0.25px #1c1b2b">TAI</div>
<div class="t" style="left:21.47px;top:351.06px;font-size:11.2px;line-height:12.51px;font-weight:normal;color:#1c1b2b;transform:scaleX(0.9319);transform-origin:50% 0;-webkit-text-stroke:0.42px #1c1b2b">(International Atomic Time)</div>
<div class="t" style="left:34.88px;top:363.86px;font-size:11.2px;line-height:12.51px;font-weight:normal;color:#24232f;transform:scaleX(0.9009);transform-origin:50% 0;-webkit-text-stroke:0.42px #24232f">Continuous, physical</div>
<div class="t" style="left:37.27px;top:373.66px;font-size:11.2px;line-height:12.51px;font-weight:normal;color:#24232f;transform:scaleX(0.8955);transform-origin:50% 0;-webkit-text-stroke:0.42px #24232f">baseline. No jumps.</div>
<div class="t" style="left:214.79px;top:336.58px;font-size:14.5px;line-height:16.20px;font-weight:bold;color:#1c1b2b;transform:scaleX(0.8553);transform-origin:50% 0;-webkit-text-stroke:0.25px #1c1b2b">UTC</div>
<div class="t" style="left:156.25px;top:351.06px;font-size:11.2px;line-height:12.51px;font-weight:normal;color:#1c1b2b;transform:scaleX(0.8247);transform-origin:50% 0;-webkit-text-stroke:0.42px #1c1b2b">(Coordinated Universal Time)</div>
<div class="t" style="left:193.55px;top:363.86px;font-size:11.2px;line-height:12.51px;font-weight:normal;color:#24232f;transform:scaleX(0.9028);transform-origin:50% 0;-webkit-text-stroke:0.42px #24232f">Civil standard.</div>
<div class="t" style="left:177.52px;top:374.76px;font-size:11.2px;line-height:12.51px;font-weight:normal;color:#24232f;transform:scaleX(0.8753);transform-origin:50% 0;-webkit-text-stroke:0.42px #24232f">TAI + Leap Seconds.</div>
<div class="t" style="left:193.12px;top:384.66px;font-size:11.2px;line-height:12.51px;font-weight:normal;color:#24232f;transform:scaleX(0.8658);transform-origin:50% 0;-webkit-text-stroke:0.42px #24232f">The reference.</div>
<div class="t" style="left:80.38px;top:467.38px;font-size:14.5px;line-height:16.20px;font-weight:bold;color:#1c1b2b;transform:scaleX(0.8533);transform-origin:50% 0;-webkit-text-stroke:0.25px #1c1b2b">EPOCH TIME</div>
<div class="t" style="left:80.67px;top:481.86px;font-size:11.2px;line-height:12.51px;font-weight:normal;color:#1c1b2b;transform:scaleX(0.9241);transform-origin:50% 0;-webkit-text-stroke:0.42px #1c1b2b">(Unix Timestamp)</div>
<div class="t" style="left:22.52px;top:494.36px;font-size:11.2px;line-height:12.51px;font-weight:normal;color:#24232f;transform:scaleX(0.8853);transform-origin:50% 0;-webkit-text-stroke:0.42px #24232f">Seconds since 1970-01-01 00:00:00 UTC.</div>
<div class="t" style="left:58.22px;top:505.36px;font-size:11.2px;line-height:12.51px;font-weight:normal;color:#24232f;transform:scaleX(0.9000);transform-origin:50% 0;-webkit-text-stroke:0.42px #24232f">Simple, linear, context-free.</div>
<div class="t" style="left:193.97px;top:217.15px;font-size:10px;line-height:11.17px;font-weight:bold;color:#f0f0f0;transform:scaleX(0.8118);transform-origin:50% 0">LEAP SECOND</div>
<div class="t" style="left:187.53px;top:227.05px;font-size:9px;line-height:10.05px;font-weight:bold;color:#e8e8e8;transform:scaleX(0.7770);transform-origin:50% 0">(+1s ADJUSTMENT)</div>
<div class="t" style="left:391.42px;top:202.33px;font-size:14px;line-height:15.64px;font-weight:bold;color:#1c1b2b;transform:scaleX(0.9128);transform-origin:50% 0;-webkit-text-stroke:0.25px #1c1b2b">ISO 8601</div>
<div class="t" style="left:375.30px;top:216.06px;font-size:11.2px;line-height:12.51px;font-weight:normal;color:#1c1b2b;transform:scaleX(0.9080);transform-origin:50% 0;-webkit-text-stroke:0.42px #1c1b2b">(Standard Format)</div>
<div class="t" style="left:352.29px;top:228.56px;font-size:11.2px;line-height:12.51px;font-weight:normal;color:#24232f;transform:scaleX(0.9169);transform-origin:50% 0;-webkit-text-stroke:0.42px #24232f">Unambigoous string format.</div>
<div class="t" style="left:360.70px;top:238.96px;font-size:11.2px;line-height:12.51px;font-weight:normal;color:#24232f;transform:scaleX(0.9037);transform-origin:50% 0;-webkit-text-stroke:0.42px #24232f">Use ‘Z’ or explicit Offset.</div>
<div class="t" style="left:570.22px;top:202.53px;font-size:14px;line-height:15.64px;font-weight:bold;color:#1c1b2b;transform:scaleX(0.8766);transform-origin:50% 0;-webkit-text-stroke:0.25px #1c1b2b">TIME ZONES</div>
<div class="t" style="left:570.52px;top:216.06px;font-size:11.2px;line-height:12.51px;font-weight:normal;color:#1c1b2b;transform:scaleX(0.9062);transform-origin:50% 0;-webkit-text-stroke:0.42px #1c1b2b">(Offsets &amp; Rules)</div>
<div class="t" style="left:526.26px;top:229.26px;font-size:11.2px;line-height:12.51px;font-weight:normal;color:#24232f;transform:scaleX(0.9208);transform-origin:50% 0;-webkit-text-stroke:0.42px #24232f">Political regions, not just geometry.</div>
<div class="t" style="left:556.35px;top:239.36px;font-size:11.2px;line-height:12.51px;font-weight:normal;color:#24232f;transform:scaleX(0.8626);transform-origin:50% 0;-webkit-text-stroke:0.42px #24232f">Rules change (TZDB).</div>
<div class="t" style="left:688.86px;top:192.59px;font-size:12.5px;line-height:13.96px;font-weight:bold;color:#1c1b2b;transform:scaleX(0.8689);transform-origin:50% 0;-webkit-text-stroke:0.25px #1c1b2b">TZDB /</div>
<div class="t" style="left:676.01px;top:204.69px;font-size:12.5px;line-height:13.96px;font-weight:bold;color:#1c1b2b;transform:scaleX(0.8184);transform-origin:50% 0;-webkit-text-stroke:0.25px #1c1b2b">OLSON DB</div>
<div class="t" style="left:600.00px;top:267.58px;font-size:13.5px;line-height:15.08px;font-weight:bold;color:#1c1b2b;transform:scaleX(0.8778);transform-origin:0 0;-webkit-text-stroke:0.25px #1c1b2b">DST</div>
<div class="t" style="left:600.00px;top:281.36px;font-size:11.2px;line-height:12.51px;font-weight:normal;color:#1c1b2b;transform:scaleX(0.9063);transform-origin:0 0;-webkit-text-stroke:0.42px #1c1b2b">(Daylight Saving Time)</div>
<div class="t" style="left:600.00px;top:293.66px;font-size:11.2px;line-height:12.51px;font-weight:normal;color:#24232f;transform:scaleX(0.9121);transform-origin:0 0;-webkit-text-stroke:0.42px #24232f">Discontinuous jumps.</div>
<div class="t" style="left:600.00px;top:303.86px;font-size:11.2px;line-height:12.51px;font-weight:normal;color:#24232f;transform:scaleX(0.9116);transform-origin:0 0;-webkit-text-stroke:0.42px #24232f">Non-monotonic.</div>
<div class="t" style="left:600.00px;top:315.06px;font-size:11.2px;line-height:12.51px;font-weight:normal;color:#24232f;transform:scaleX(0.9018);transform-origin:0 0;-webkit-text-stroke:0.42px #24232f">Avoid for logic.</div>
<div class="t" style="left:656.00px;top:266.90px;font-size:9.5px;line-height:10.61px;font-weight:bold;color:#f4f0e8;transform:scaleX(0.7815);transform-origin:0 0">NON-MONOTONIC!</div>
<div class="t" style="left:339.83px;top:467.28px;font-size:14.5px;line-height:16.20px;font-weight:bold;color:#1c1b2b;transform:scaleX(0.8452);transform-origin:50% 0;-webkit-text-stroke:0.25px #1c1b2b">MONOTONIC CLOCK</div>
<div class="t" style="left:377.68px;top:481.36px;font-size:11.2px;line-height:12.51px;font-weight:normal;color:#1c1b2b;transform:scaleX(0.9190);transform-origin:50% 0;-webkit-text-stroke:0.42px #1c1b2b">(For Duration)</div>
<div class="t" style="left:354.48px;top:494.36px;font-size:11.2px;line-height:12.51px;font-weight:normal;color:#24232f;transform:scaleX(0.9128);transform-origin:50% 0;-webkit-text-stroke:0.42px #24232f">Always moves forward.</div>
<div class="t" style="left:363.27px;top:504.96px;font-size:11.2px;line-height:12.51px;font-weight:normal;color:#24232f;transform:scaleX(0.9076);transform-origin:50% 0;-webkit-text-stroke:0.42px #24232f">Unaffected by sync.</div>
<div class="t" style="left:370.33px;top:515.36px;font-size:11.2px;line-height:12.51px;font-weight:normal;color:#24232f;transform:scaleX(0.9173);transform-origin:50% 0;-webkit-text-stroke:0.42px #24232f">Use for intervals.</div>
<div class="t" style="left:489.68px;top:448.70px;font-size:10.5px;line-height:11.73px;font-weight:bold;color:#1c1b2b;transform:scaleX(0.8876);transform-origin:50% 0;-webkit-text-stroke:0.25px #1c1b2b">DURATION</div>
<div class="t" style="left:490.30px;top:459.40px;font-size:10.5px;line-height:11.73px;font-weight:bold;color:#1c1b2b;transform:scaleX(0.9081);transform-origin:50% 0;-webkit-text-stroke:0.25px #1c1b2b">≠ INSTANT</div>
<div class="t" style="left:552.34px;top:466.98px;font-size:14.5px;line-height:16.20px;font-weight:bold;color:#1c1b2b;transform:scaleX(0.8522);transform-origin:50% 0;-webkit-text-stroke:0.25px #1c1b2b">WALL-CLOCK TIME</div>
<div class="t" style="left:585.50px;top:481.96px;font-size:11.2px;line-height:12.51px;font-weight:normal;color:#1c1b2b;transform:scaleX(0.8986);transform-origin:50% 0;-webkit-text-stroke:0.42px #1c1b2b">(For Humans)</div>
<div class="t" style="left:538.65px;top:494.76px;font-size:11.2px;line-height:12.51px;font-weight:normal;color:#24232f;transform:scaleX(0.8973);transform-origin:50% 0;-webkit-text-stroke:0.42px #24232f">Can jump back/forth (NTP, user).</div>
<div class="t" style="left:523.73px;top:504.76px;font-size:11.2px;line-height:12.51px;font-weight:normal;color:#24232f;transform:scaleX(0.9032);transform-origin:50% 0;-webkit-text-stroke:0.42px #24232f">Unreliable for measuring elapsed time.</div>
<div class="t" style="left:865.30px;top:167.04px;font-size:13px;line-height:14.52px;font-weight:bold;color:#151c18;transform:scaleX(0.9642);transform-origin:0 0;-webkit-text-stroke:0.25px #151c18">COMMON</div>
<div class="t" style="left:865.30px;top:180.24px;font-size:13px;line-height:14.52px;font-weight:bold;color:#151c18;transform:scaleX(0.9154);transform-origin:0 0;-webkit-text-stroke:0.25px #151c18">FALSEHOODS</div>
<div class="t" style="left:865.30px;top:194.76px;font-size:11.2px;line-height:12.51px;font-weight:normal;color:#1f2520;transform:scaleX(0.8857);transform-origin:0 0;-webkit-text-stroke:0.42px #1f2520">Years != 365 days.</div>
<div class="t" style="left:865.30px;top:206.96px;font-size:11.2px;line-height:12.51px;font-weight:normal;color:#1f2520;transform:scaleX(0.8492);transform-origin:0 0;-webkit-text-stroke:0.42px #1f2520">Day != 24h (DST/Leap s).</div>
<div class="t" style="left:865.30px;top:219.16px;font-size:11.2px;line-height:12.51px;font-weight:normal;color:#1f2520;transform:scaleX(0.9137);transform-origin:0 0;-webkit-text-stroke:0.42px #1f2520">Offsets are not static.</div>
<div class="t" style="left:865.30px;top:268.74px;font-size:13px;line-height:14.52px;font-weight:bold;color:#151c18;transform:scaleX(0.9207);transform-origin:0 0;-webkit-text-stroke:0.25px #151c18">STORE &amp;</div>
<div class="t" style="left:865.30px;top:282.44px;font-size:13px;line-height:14.52px;font-weight:bold;color:#151c18;transform:scaleX(0.9826);transform-origin:0 0;-webkit-text-stroke:0.25px #151c18">TRANSMIT</div>
<div class="t" style="left:865.30px;top:296.04px;font-size:13px;line-height:14.52px;font-weight:bold;color:#151c18;transform:scaleX(0.9459);transform-origin:0 0;-webkit-text-stroke:0.25px #151c18">IN UTC</div>
<div class="t" style="left:865.30px;top:311.26px;font-size:11.2px;line-height:12.51px;font-weight:normal;color:#1f2520;transform:scaleX(0.9075);transform-origin:0 0;-webkit-text-stroke:0.42px #1f2520">Convert to local only</div>
<div class="t" style="left:865.30px;top:321.26px;font-size:11.2px;line-height:12.51px;font-weight:normal;color:#1f2520;transform:scaleX(0.9199);transform-origin:0 0;-webkit-text-stroke:0.42px #1f2520">for display.</div>
<div class="t" style="left:865.30px;top:331.36px;font-size:11.2px;line-height:12.51px;font-weight:normal;color:#1f2520;transform:scaleX(0.9060);transform-origin:0 0;-webkit-text-stroke:0.42px #1f2520">Single source of truth.</div>
<div class="t" style="left:807.72px;top:468.48px;font-size:13.5px;line-height:15.08px;font-weight:bold;color:#151c18;transform:scaleX(0.9060);transform-origin:50% 0;-webkit-text-stroke:0.25px #151c18">RELIABLE SYSTEMS</div>
<div class="t" style="left:827.10px;top:484.06px;font-size:11.2px;line-height:12.51px;font-weight:normal;color:#1f2520;transform:scaleX(0.9076);transform-origin:50% 0;-webkit-text-stroke:0.42px #1f2520">Robust, predictable</div>
<div class="t" style="left:839.12px;top:494.36px;font-size:11.2px;line-height:12.51px;font-weight:normal;color:#1f2520;transform:scaleX(0.9304);transform-origin:50% 0;-webkit-text-stroke:0.42px #1f2520">temporal logic.</div>
<div class="t" style="left:825.80px;top:540.19px;font-size:12.5px;line-height:13.96px;font-weight:normal;color:#26263a;transform:scaleX(0.9251);transform-origin:0 0;-webkit-text-stroke:0.42px #26263a">Delphi.org/TimeTravelToolKit</div>
<div class="t" style="left:30.00px;top:59.29px;font-size:21.5px;line-height:24.36px;font-weight:bold;color:#1e1a3e;transform:scaleX(0.8693);transform-origin:0 0;-webkit-text-stroke:0.8px #1e1a3e;font-family:'Liberation Mono', monospace">A Programmer’s Guide to Time Concepts</div>
</body></html>
